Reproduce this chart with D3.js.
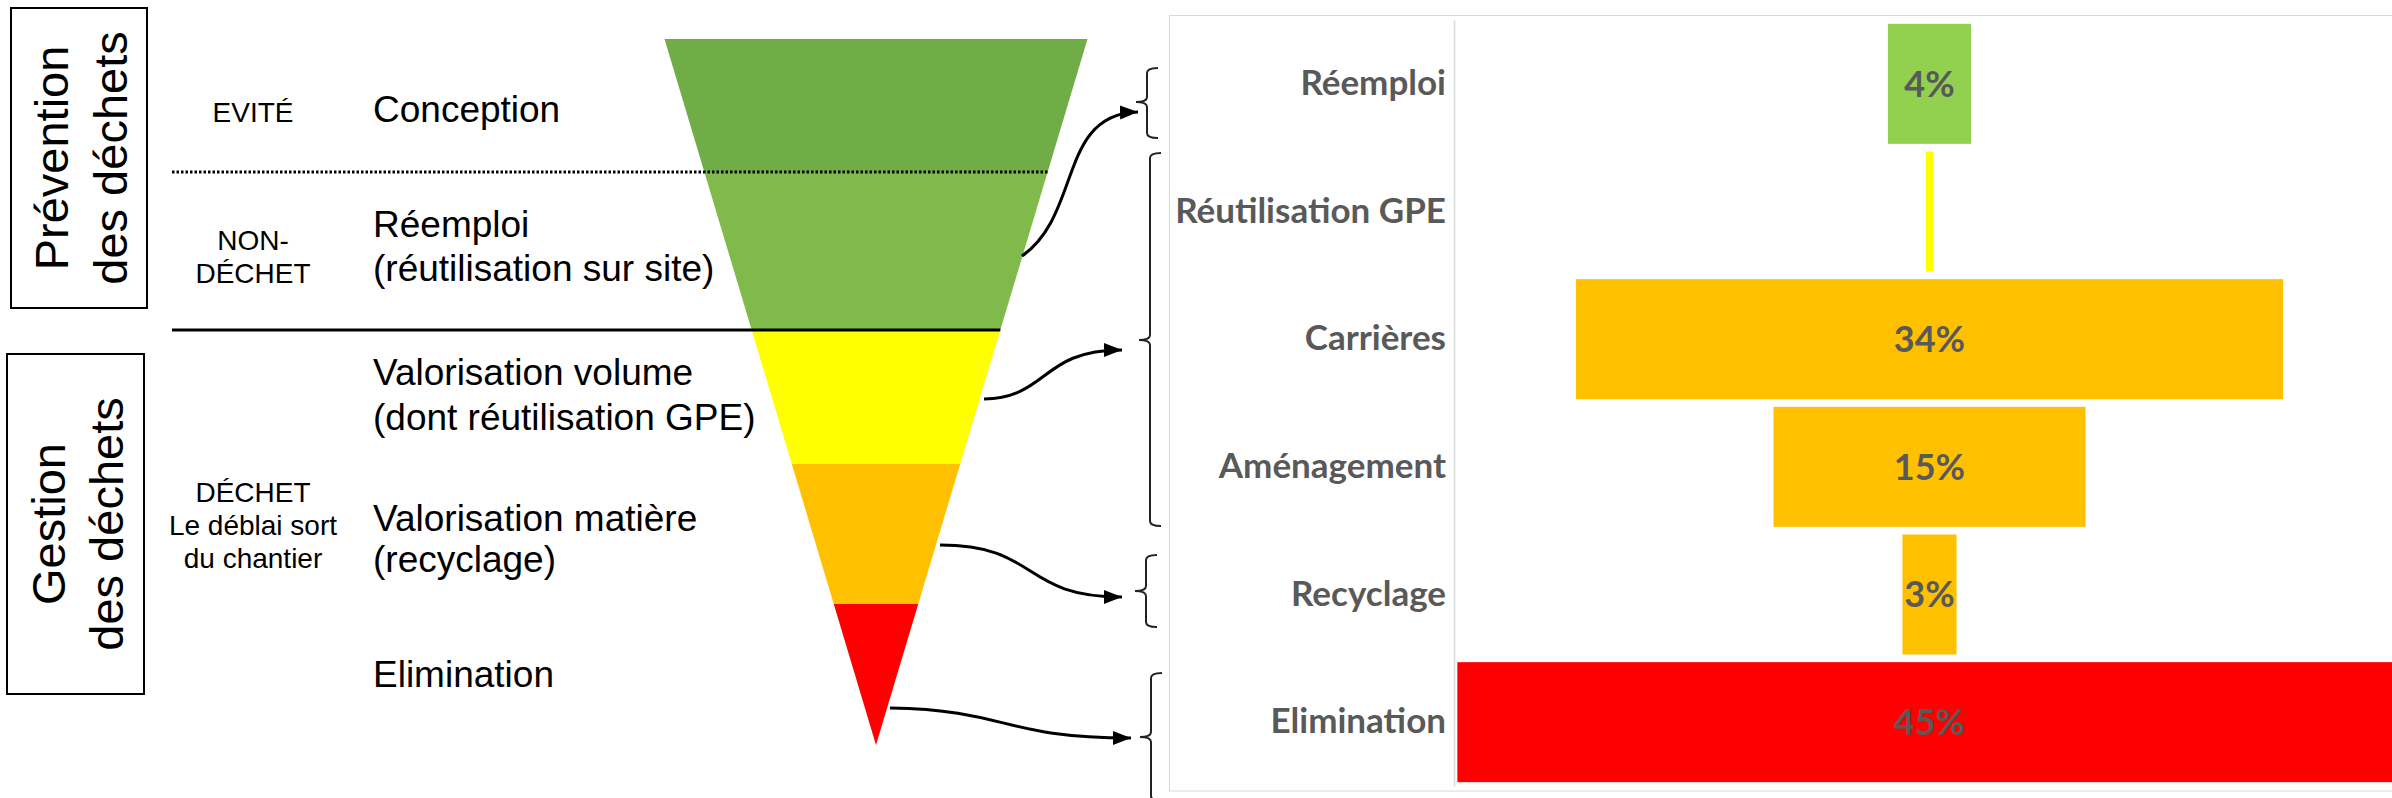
<!DOCTYPE html>
<html><head><meta charset="utf-8">
<script src="https://cdn.jsdelivr.net/npm/d3@7"></script>
<style>html,body{margin:0;padding:0;background:#fff}svg{display:block}</style>
</head><body>
<svg id="c" width="2392" height="798"></svg>
<script>
// ---------- DATA ----------
const categories = ['Réemploi', 'Réutilisation GPE', 'Carrières', 'Aménagement', 'Recyclage', 'Elimination'];
const shares = [4, 0.35, 34, 15, 2.6, 45.4];
const barColors = ['#92D050', '#FFFF00', '#FFC000', '#FFC000', '#FFC000', '#FF0000'];

const funnelStages = ['Conception', 'Réemploi', 'Valorisation volume', 'Valorisation matière', 'Elimination'];
const funnelColors = ['#70AD47', '#7FBA4A', '#FFFF00', '#FFC000', '#FF0000'];
const stageLabels = [['Conception'], ['Réemploi', '(réutilisation sur site)'], ['Valorisation volume', '(dont réutilisation GPE)'], ['Valorisation matière', '(recyclage)'], ['Elimination']];
const statusLabels = [['EVITÉ'], ['NON-', 'DÉCHET'], ['DÉCHET', 'Le déblai sort', 'du chantier']];
const groupTitles = [['Prévention', 'des déchets'], ['Gestion', 'des déchets']];

// ---------- LAYOUT ----------
const svg = d3.select('#c');
const ARIAL = "'Liberation Sans', Arial, sans-serif";
const CAL = "Lato, 'Open Sans', sans-serif";

// Left group boxes
const boxes = [{x0: 11, x1: 147, y0: 8, y1: 308, b1: 68, b2: 127}, {x0: 7, x1: 144, y0: 354, y1: 694, b1: 65, b2: 123}];
boxes.forEach((b, i) => {
  svg.append('rect').attr('x', b.x0).attr('y', b.y0).attr('width', b.x1 - b.x0).attr('height', b.y1 - b.y0)
    .attr('fill', 'none').attr('stroke', '#000').attr('stroke-width', 2);
  const cy = (b.y0 + b.y1) / 2;
  [b.b1, b.b2].forEach((bx, j) => {
    svg.append('text').attr('transform', `translate(${bx},${cy}) rotate(-90)`)
      .attr('text-anchor', 'middle').attr('font-family', ARIAL).attr('font-size', 47).attr('fill', '#000')
      .text(groupTitles[i][j]);
  });
});

// Status labels
const statusY = [[122], [250, 283], [502, 535, 568]];
statusLabels.forEach((lines, i) => {
  lines.forEach((t, j) => {
    svg.append('text').attr('x', 253).attr('y', statusY[i][j]).attr('text-anchor', 'middle')
      .attr('font-family', ARIAL).attr('font-size', 28).attr('fill', '#000').text(t);
  });
});

// Stage labels
const stageY = [[122], [237, 281], [385, 430], [531, 572], [687]];
stageLabels.forEach((lines, i) => {
  lines.forEach((t, j) => {
    svg.append('text').attr('x', 373).attr('y', stageY[i][j])
      .attr('font-family', ARIAL).attr('font-size', 37).attr('fill', '#000').text(t);
  });
});

// Funnel
const fy = d3.scaleLinear().domain([0, 1, 2, 3, 4, 5]).range([39, 172, 330, 464, 604, 745]);
const fcx = 876;
const fhw = d3.scaleLinear().domain([39, 745]).range([211.5, 0]);
funnelStages.forEach((s, i) => {
  const y0 = fy(i), y1 = fy(i + 1);
  const pts = [[fcx - fhw(y0), y0], [fcx + fhw(y0), y0], [fcx + fhw(y1), y1], [fcx - fhw(y1), y1]];
  svg.append('path').attr('d', d3.line()(pts) + 'Z').attr('fill', funnelColors[i]);
});
// separators
svg.append('line').attr('x1', 172).attr('x2', fcx + fhw(fy(1))).attr('y1', fy(1)).attr('y2', fy(1))
  .attr('stroke', '#000').attr('stroke-width', 3).attr('stroke-dasharray', '2.5,2');
svg.append('line').attr('x1', 172).attr('x2', fcx + fhw(fy(2))).attr('y1', fy(2)).attr('y2', fy(2))
  .attr('stroke', '#000').attr('stroke-width', 3);

// Arrows
const defs = svg.append('defs');
defs.append('marker').attr('id', 'ah').attr('markerUnits', 'userSpaceOnUse')
  .attr('markerWidth', 20).attr('markerHeight', 16).attr('refX', 18).attr('refY', 7).attr('orient', 'auto')
  .append('path').attr('d', 'M0,0 L18,7 L0,14 Z').attr('fill', '#000');
const arrows = [
  'M1022,256 C1082,214 1058,114 1138,112',
  'M984,399 C1050,397 1040,350 1122,350',
  'M940,545 C1040,545 1020,597 1122,597',
  'M890,708 C1010,710 1000,738 1131,738'
];
arrows.forEach(d => svg.append('path').attr('d', d).attr('fill', 'none').attr('stroke', '#000')
  .attr('stroke-width', 3).attr('marker-end', 'url(#ah)'));

// Braces
const braces = [
  {x: 1147, y0: 68, ym: 102, y1: 138},
  {x: 1150, y0: 153, ym: 340, y1: 526},
  {x: 1146, y0: 555, ym: 591, y1: 627},
  {x: 1151, y0: 673, ym: 737, y1: 801}
];
braces.forEach(b => {
  const s = 11, t = 11, r = 5;
  const d = `M${b.x + s},${b.y0} Q${b.x},${b.y0} ${b.x},${b.y0 + r} L${b.x},${b.ym - r} Q${b.x},${b.ym} ${b.x - t},${b.ym}` +
    ` Q${b.x},${b.ym} ${b.x},${b.ym + r} L${b.x},${b.y1 - r} Q${b.x},${b.y1} ${b.x + s},${b.y1}`;
  svg.append('path').attr('d', d).attr('fill', 'none').attr('stroke', '#222').attr('stroke-width', 2);
});

// ---------- BAR (funnel) CHART ----------
svg.append('rect').attr('x', 1169.5).attr('y', 15.5).attr('width', 1400).attr('height', 775.5)
  .attr('fill', '#fff').attr('stroke', '#D9D9D9').attr('stroke-width', 1);

const axisX = 1454;
const y = d3.scaleBand().domain(categories).range([20, 786]).paddingInner(0.06).paddingOuter(0.03);
const cx = 1929.5, pxPerPct = 20.8;
const x = d3.scaleLinear().domain([-50, 50]).range([cx - 50 * pxPerPct, cx + 50 * pxPerPct]);

defs.append('clipPath').attr('id', 'plot').append('rect').attr('x', axisX).attr('y', 0).attr('width', 2392 - axisX).attr('height', 798);
const data = categories.map((c, i) => ({c, v: shares[i], col: barColors[i]}));
const gBars = svg.append('g').attr('clip-path', 'url(#plot)');
gBars.selectAll('rect').data(data).join('rect')
  .attr('x', d => x(-d.v / 2)).attr('width', d => x(d.v / 2) - x(-d.v / 2))
  .attr('y', d => y(d.c)).attr('height', y.bandwidth()).attr('fill', d => d.col);

const fmt = d3.format('.0%');
gBars.selectAll('text').data(data.filter(d => d.v >= 1)).join('text')
  .attr('x', x(0)).attr('y', d => y(d.c) + y.bandwidth() / 2).attr('dy', '0.36em')
  .attr('text-anchor', 'middle').attr('font-family', CAL).attr('font-weight', 700).attr('font-size', 36)
  .attr('fill', '#595959').text(d => fmt(d.v / 100));

const ax = svg.append('g').attr('transform', `translate(${axisX},0)`)
  .call(d3.axisLeft(y).tickSize(0).tickSizeOuter(0).tickPadding(8));
ax.select('.domain').attr('stroke', '#D9D9D9').attr('stroke-width', 1.5);
ax.selectAll('text').attr('font-family', CAL).attr('font-weight', 700).attr('font-size', 35).attr('fill', '#595959');
</script>
</body></html>
